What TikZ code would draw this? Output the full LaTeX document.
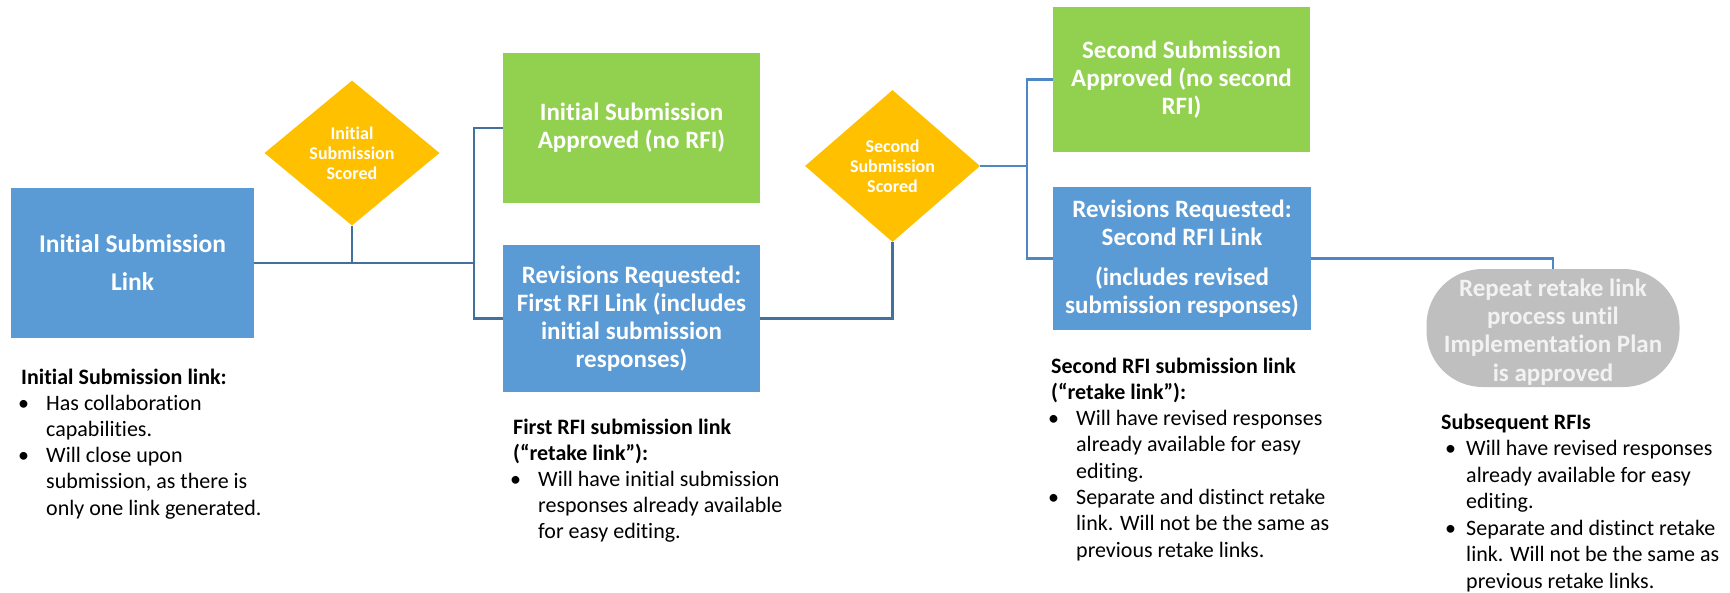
\documentclass[tikz,border=0pt]{standalone}
\usepackage{fontspec}
\setmainfont{Carlito}[Ligatures=NoCommon]
\usetikzlibrary{shapes.geometric}
\definecolor{boxblue}{HTML}{5B9BD5}
\definecolor{boxgreen}{HTML}{92D050}
\definecolor{goldfill}{HTML}{FFC000}
\definecolor{ovalgray}{HTML}{BFBFBF}
\definecolor{ovaltext}{HTML}{F2F2F2}
\definecolor{linedark}{HTML}{41719C}
\definecolor{linelight}{HTML}{4F87C5}
\newcommand\bitem{\makebox[25pt][l]{\hspace{-3pt}\textbullet}}
\newcommand\bitemb{\makebox[25pt][l]{\hspace{4pt}\textbullet}}
\newcommand\bcont{\hspace*{25pt}}
\begin{document}
\begin{tikzpicture}[x=1pt,y=-1pt,
  procbox/.style={rectangle, inner sep=0pt, text=white, align=center,
    font=\bfseries\fontsize{25}{28}\selectfont},
  bluebox/.style={procbox, fill=boxblue},
  greenbox/.style={procbox, fill=boxgreen},
  decision/.style={diamond, fill=goldfill, inner sep=0pt},
  dtext/.style={text=white, align=center, inner sep=0pt,
    font=\bfseries\fontsize{18}{20}\selectfont},
  endbox/.style={rectangle, rounded corners=56pt, fill=ovalgray, inner sep=0pt},
  endtext/.style={text=ovaltext, inner sep=0pt, align=center,
    font=\bfseries\fontsize{25}{28.3}\selectfont},
  conn/.style={draw=linedark, line width=2.5pt},
  connb/.style={draw=linelight, line width=2.5pt},
  anno/.style={inner sep=0pt, anchor=base west, text=black}
]
\useasboundingbox (0,0) rectangle (1730,592);

% process boxes
\node[bluebox, minimum width=243pt, minimum height=150pt,
  font=\bfseries\fontsize{25.5}{38}\selectfont] (b1) at (132.5,263) {Initial Submission\\Link};
\node[greenbox, minimum width=257pt, minimum height=150pt] (g1) at (631.5,128)
  {Initial Submission\\Approved (no RFI)};
\node[bluebox, minimum width=257pt, minimum height=147pt] (b2) at (631.5,318.5)
  {Revisions Requested:\\First RFI Link (includes\\initial submission\\responses)};
\node[greenbox, minimum width=257pt, minimum height=145pt] (g2) at (1181.5,79.5)
  {Second Submission\\Approved (no second\\RFI)};
\node[bluebox, minimum width=258pt, minimum height=143pt] (b3) at (1182,258.5)
  {Revisions Requested:\\Second RFI Link\\[12pt](includes revised\\submission responses)};
\node[endbox, minimum width=253pt, minimum height=118pt] (ov) at (1553,328) {};
\node[endtext] (ovt) at ([yshift=-4pt]ov.center)
  {Repeat retake link\\process until\\Implementation Plan\\is approved};

% decisions
\node[decision, minimum width=175pt, minimum height=145pt] (d1) at (352,153) {};
\node[dtext] (d1t) at (d1.center) {Initial\\Submission\\Scored};
\node[decision, minimum width=175pt, minimum height=152pt] (d2) at (892.5,166) {};
\node[dtext] (d2t) at (d2.center) {Second\\Submission\\Scored};

% connectors
\coordinate (j1) at (474,263);
\coordinate (j2) at (1027,166);
\draw[conn] (b1.east) -- (j1);
\draw[conn] (d1.south) -- (d1.south |- j1);
\draw[conn] (g1.west) -| (j1) |- (b2.west);
\draw[conn] (b2.east) -| (d2.south);
\draw[connb] (d2.east) -- (j2);
\draw[connb] (g2.west) -| (j2) |- (b3.west);
\draw[connb] (b3.east) -| (ov.north);

% annotations
\node[anno] (a1) at (21,384) {\parbox[t]{300pt}{\raggedright\fontsize{22}{26.2}\selectfont
  \textbf{Initial Submission link:}\\
  \bitem Has collaboration\\
  \bcont capabilities.\\
  \bitem Will close upon\\
  \bcont submission, as there is\\
  \bcont only one link generated.}};
\node[anno] (a2) at (513,434) {\parbox[t]{300pt}{\raggedright\fontsize{22}{26}\selectfont
  \textbf{First RFI submission link}\\
  \textbf{(“retake link”):}\\
  \bitem Will have initial submission\\
  \bcont responses already available\\
  \bcont for easy editing.}};
\node[anno] (a3) at (1051,373) {\parbox[t]{320pt}{\raggedright\fontsize{22}{26.3}\selectfont
  \textbf{Second RFI submission link}\\
  \textbf{(“retake link”):}\\
  \bitem Will have revised responses\\
  \bcont already available for easy\\
  \bcont editing.\\
  \bitem Separate and distinct retake\\
  \bcont link. Will not be the same as\\
  \bcont previous retake links.}};
\node[anno] (a4) at (1441,429) {\parbox[t]{300pt}{\raggedright\fontsize{22}{26.5}\selectfont
  \textbf{Subsequent RFIs}\\
  \bitemb Will have revised responses\\
  \bcont already available for easy\\
  \bcont editing.\\
  \bitemb Separate and distinct retake\\
  \bcont link. Will not be the same as\\
  \bcont previous retake links.}};
\end{tikzpicture}
\end{document}
